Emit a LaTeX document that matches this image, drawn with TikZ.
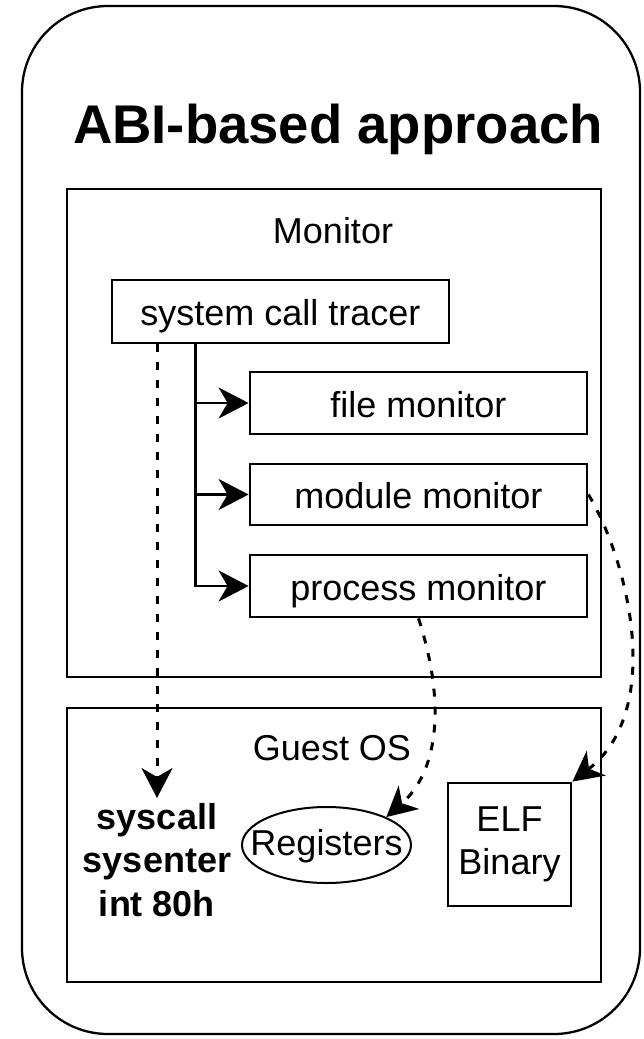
\documentclass[tikz,border=0pt]{standalone}
\usepackage{fontspec}
\setmainfont{Liberation Sans}
\usetikzlibrary{arrows.meta,shapes.geometric}

\tikzset{
  lbl/.style={font=\fontsize{36}{43.5}\selectfont, inner sep=0pt},
  box/.style={draw, line width=2.8pt, inner sep=0pt, text height=28pt, text depth=0pt,
              font=\fontsize{36}{43.5}\selectfont},
  frame/.style={draw, line width=2.8pt, inner sep=0pt},
  tip/.style={-{Stealth[length=30pt,width=31pt,inset=9pt]}},
  link/.style={tip, line width=2.7pt},
  dlink/.style={tip, line width=3pt, dash pattern=on 8pt off 10pt},
}

\begin{document}
\begin{tikzpicture}[x=1pt,y=-1pt]
\useasboundingbox (0,0) rectangle (644,1039);

% outer container
\draw[line width=2.3pt, rounded corners=86pt] (22,6) rectangle (640,1034);
\node[anchor=base, inner sep=0pt, font=\fontsize{54.5}{60}\selectfont\bfseries] (title) at (338,143) {ABI-based approach};

% Monitor block
\node[frame, minimum width=534pt, minimum height=488pt] (monitor) at (334,433) {};
\node[lbl, anchor=base] (monlabel) at (333,243) {Monitor};

\node[box, minimum width=337pt, minimum height=63pt] (tracer) at (280.5,311.5) {system call tracer};
\node[box, minimum width=337pt, minimum height=62pt] (file) at (418.5,403) {file monitor};
\node[box, minimum width=337pt, minimum height=61pt] (module) at (418.5,494.5) {module monitor};
\node[box, minimum width=337pt, minimum height=62pt] (process) at (418.5,586) {process monitor};

% Guest OS block
\node[frame, minimum width=534pt, minimum height=274pt] (guest) at (334,845) {};
\node[lbl, anchor=base] (guestlabel) at (332,760) {Guest OS};

\node[lbl, anchor=north, inner ysep=5pt, align=center, font=\fontsize{36}{43.5}\selectfont\bfseries] (sys) at (157,798)
  {syscall\\sysenter\\int 80h};
\node[draw, ellipse, line width=2pt, inner sep=0pt, minimum width=169pt, minimum height=76pt,
      text height=20pt, text depth=0pt, font=\fontsize{36}{43.5}\selectfont] (regs) at (326.5,845)
  {\makebox[0pt]{Registers}};
\node[draw, line width=2.8pt, inner sep=0pt, minimum width=123pt, minimum height=123pt, align=center,
      font=\fontsize{36}{43.5}\selectfont] (elf) at (509.5,844.5) {ELF\\Binary};

% tracer fans out to the monitors
\coordinate (trunk) at ([xshift=85pt]tracer.south west);
\draw[link] (trunk) |- (file.west);
\draw[link] (trunk) |- (module.west);
\draw[link] (trunk) |- (process.west);

% dashed links into the guest
\draw[dlink] (tracer.south -| sys.north) -- (sys.north);
\draw[dlink] (process.south) .. controls (445,700) and (440,770) .. (regs.25);
\draw[dlink] (module.east) .. controls (628,560) and (665,710) .. (elf.north east);
\end{tikzpicture}
\end{document}
